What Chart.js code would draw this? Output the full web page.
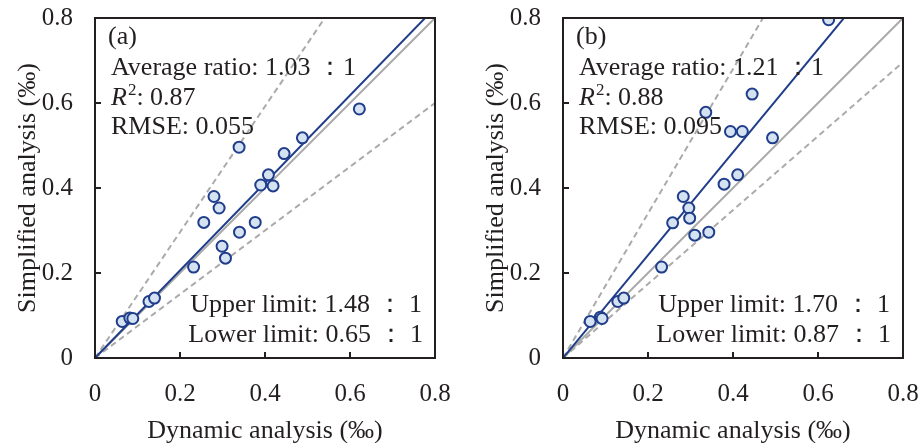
<!DOCTYPE html>
<html>
<head>
<meta charset="utf-8">
<script src="https://cdn.jsdelivr.net/npm/chart.js@4.4.1/dist/chart.umd.min.js"></script>
<style>
  body { margin: 0; background: #fff; }
  #wrap { position: relative; width: 923px; height: 443px; }
  canvas { position: absolute; top: 0; }
</style>
</head>
<body>
<div id="wrap">
  <canvas id="chartA" width="461" height="443" style="left:0"></canvas>
  <canvas id="chartB" width="455" height="443" style="left:468px"></canvas>
</div>
<script>
// values (‰)
const dynamicA = [0.622, 0.339, 0.488, 0.445, 0.408, 0.390, 0.419, 0.280, 0.292, 0.256,
                  0.377, 0.340, 0.299, 0.307, 0.232, 0.127, 0.140, 0.064, 0.082, 0.089];
const simplifiedA = [0.586, 0.496, 0.518, 0.481, 0.431, 0.407, 0.405, 0.380, 0.353, 0.319,
                     0.319, 0.296, 0.263, 0.235, 0.214, 0.133, 0.141, 0.086, 0.094, 0.093];
const dynamicB = [0.625, 0.445, 0.336, 0.394, 0.422, 0.493, 0.411, 0.379, 0.283, 0.296,
                  0.298, 0.258, 0.310, 0.343, 0.232, 0.129, 0.143, 0.064, 0.088, 0.092];
const simplifiedB = [0.796, 0.621, 0.578, 0.533, 0.533, 0.518, 0.431, 0.409, 0.380, 0.353,
                     0.329, 0.318, 0.289, 0.296, 0.214, 0.133, 0.141, 0.086, 0.096, 0.093];

// slopes of the drawn lines: fitted, upper, lower
const slopesA = [1.03, 1.48, 0.75];
const slopesB = [1.21, 1.70, 0.87];

const tickValues = [0, 0.2, 0.4, 0.6, 0.8];

const labelsA = ["(a)", "Average ratio: 1.03 ：1", "0.87", "RMSE: 0.055",
                 "Upper limit: 1.48 ： 1", "Lower limit: 0.65 ： 1"];
const labelsB = ["(b)", "Average ratio: 1.21 ：1", "0.88", "RMSE: 0.095",
                 "Upper limit: 1.70 ： 1", "Lower limit: 0.87 ： 1"];

const FONT = "'Liberation Serif', 'Times New Roman', serif";
const INK = "#231f20";

function linePts(slope) {
  return [{x: 0, y: 0}, {x: 0.8, y: 0.8 * slope}];
}

const framePlugin = {
  id: "frame",
  afterDatasetsDraw(chart) {
    const ctx = chart.ctx;
    const a = chart.chartArea;
    const xs = chart.scales.x, ys = chart.scales.y;
    ctx.save();
    ctx.strokeStyle = INK;
    ctx.lineWidth = 2;
    ctx.strokeRect(a.left, a.top, a.right - a.left, a.bottom - a.top);
    ctx.beginPath();
    tickValues.slice(1, -1).forEach(v => {
      const px = xs.getPixelForValue(v);
      ctx.moveTo(px, a.bottom);
      ctx.lineTo(px, a.bottom - 6);
      const py = ys.getPixelForValue(v);
      ctx.moveTo(a.left, py);
      ctx.lineTo(a.left + 6, py);
    });
    ctx.stroke();

    const t = chart.options.plugins.frame.texts;
    ctx.fillStyle = INK;
    ctx.font = "26px " + FONT;
    ctx.textBaseline = "middle";
    ctx.textAlign = "left";
    const lx = a.left + 16;
    ctx.fillText(t[0], lx - 3, a.top + 19);
    ctx.fillText(t[1], lx, a.top + 50);
    ctx.font = "italic 26px " + FONT;
    ctx.fillText("R", lx, a.top + 80);
    let w = ctx.measureText("R").width;
    ctx.font = "17px " + FONT;
    ctx.fillText("2", lx + w + 1, a.top + 73);
    w += ctx.measureText("2").width + 1;
    ctx.font = "26px " + FONT;
    ctx.fillText(": " + t[2], lx + w, a.top + 80);
    ctx.fillText(t[3], lx, a.top + 109);
    ctx.textAlign = "right";
    ctx.fillText(t[4], a.right - 13, a.bottom - 53);
    ctx.fillText(t[5], a.right - 12, a.bottom - 23);
    ctx.restore();
  }
};

function makeChart(id, xs, ys, slopes, texts, rightPad) {
  const pts = xs.map((x, i) => ({x: x, y: ys[i]}));
  new Chart(document.getElementById(id), {
    type: "scatter",
    data: {
      datasets: [
        {
          data: pts,
          pointRadius: 5.5,
          pointBorderWidth: 2,
          pointBackgroundColor: "#d4e2f2",
          pointBorderColor: "#1f3d8a",
          pointHoverRadius: 5.5
        },
        {
          type: "line", data: linePts(slopes[0]), borderColor: "#1f3d8a",
          borderWidth: 2, pointRadius: 0
        },
        {
          type: "line", data: linePts(1), borderColor: "#ababab",
          borderWidth: 2, pointRadius: 0
        },
        {
          type: "line", data: linePts(slopes[1]), borderColor: "#ababab",
          borderWidth: 2, borderDash: [6, 4], pointRadius: 0
        },
        {
          type: "line", data: linePts(slopes[2]), borderColor: "#ababab",
          borderWidth: 2, borderDash: [6, 4], pointRadius: 0
        }
      ]
    },
    options: {
      responsive: false,
      animation: false,
      layout: { padding: { top: 18, right: rightPad, left: 0, bottom: 0 } },
      plugins: {
        legend: { display: false },
        tooltip: { enabled: false },
        frame: { texts: texts }
      },
      scales: {
        x: {
          type: "linear", min: 0, max: 0.8,
          afterBuildTicks(s) { s.ticks = tickValues.map(v => ({value: v})); },
          afterFit(s) { s.height = 85; s.paddingLeft = 0; s.paddingRight = 0; },
          grid: { display: false, drawTicks: false },
          border: { display: false },
          ticks: { padding: 21, color: INK, font: { family: FONT, size: 25 } },
          title: { display: true, text: "Dynamic analysis (‰)", color: INK,
                   font: { family: FONT, size: 26, lineHeight: 0.9 }, padding: 0 }
        },
        y: {
          type: "linear", min: 0, max: 0.8,
          afterBuildTicks(s) { s.ticks = tickValues.map(v => ({value: v})); },
          afterFit(s) { s.width = 95; s.paddingTop = 0; s.paddingBottom = 0; },
          grid: { display: false, drawTicks: false },
          border: { display: false },
          ticks: { padding: 22, color: INK, font: { family: FONT, size: 25 } },
          title: { display: true, text: "Simplified analysis (‰)", color: INK,
                   font: { family: FONT, size: 26 }, padding: { top: 13, bottom: 0 } }
        }
      }
    },
    plugins: [framePlugin]
  });
}

makeChart("chartA", dynamicA, simplifiedA, slopesA, labelsA, 26);
makeChart("chartB", dynamicB, simplifiedB, slopesB, labelsB, 20);
</script>
</body>
</html>
